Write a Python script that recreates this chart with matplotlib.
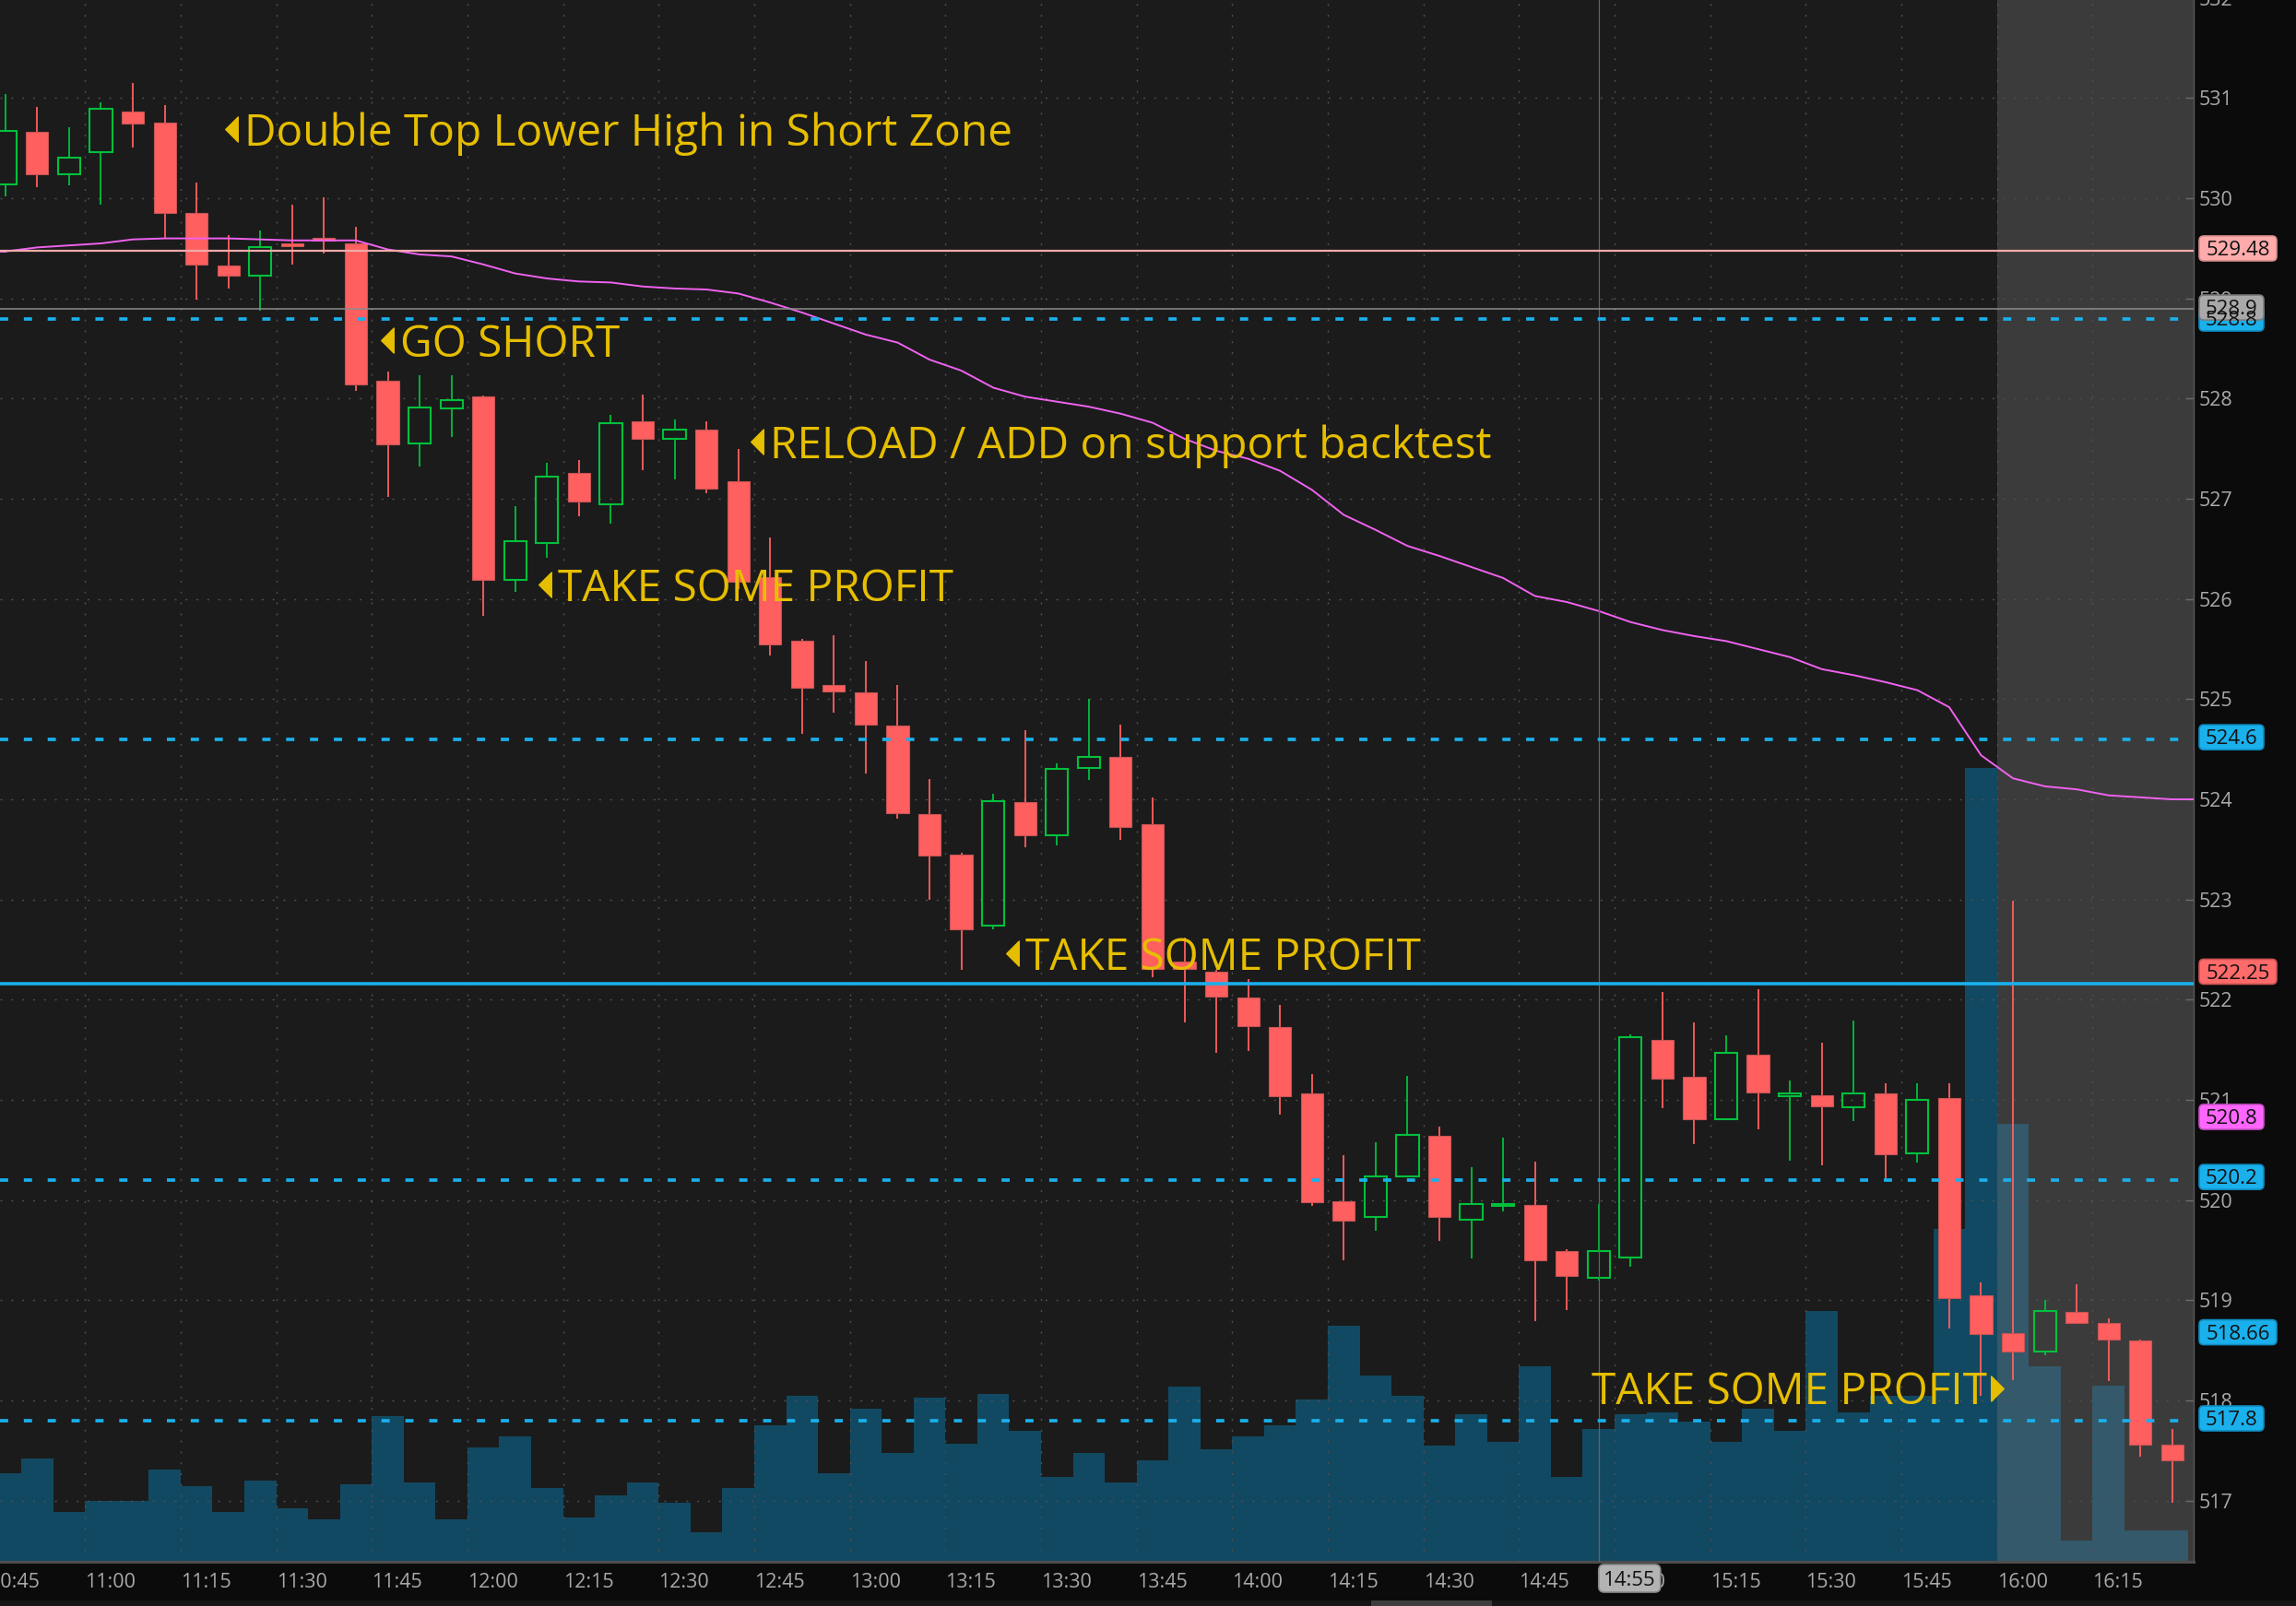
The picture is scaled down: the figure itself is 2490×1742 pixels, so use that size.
import matplotlib
matplotlib.use("Agg")
import matplotlib.pyplot as plt
import matplotlib.transforms as mtransforms
from matplotlib.patches import FancyBboxPatch, Rectangle
from matplotlib.path import Path

plt.rcParams["font.family"] = ["Open Sans", "DejaVu Sans"]

# 5-minute bars from 10:45 to 16:25
opens = [530.14, 530.66, 530.24, 530.46, 530.87, 530.76, 529.85, 529.33, 529.23, 529.55,
         529.61, 529.55, 528.18, 527.55, 527.90, 528.02, 526.19, 526.56, 527.26, 526.95,
         527.77, 527.60, 527.69, 527.18, 526.22, 525.58, 525.14, 525.07, 524.74, 523.85,
         523.45, 522.74, 523.97, 523.64, 524.31, 524.42, 523.75, 522.38, 522.28, 522.02,
         521.73, 521.06, 519.99, 519.83, 520.24, 520.64, 519.80, 519.94, 519.95, 519.49,
         519.22, 519.43, 521.60, 521.23, 520.81, 521.45, 521.04, 521.05, 520.93, 521.06,
         520.47, 521.02, 519.05, 518.67, 518.49, 518.88, 518.77, 518.60, 517.56]
highs = [531.04, 530.91, 530.71, 530.96, 531.15, 530.93, 530.16, 529.63, 529.68, 529.94,
         530.01, 529.72, 528.27, 528.23, 528.23, 528.03, 526.93, 527.36, 527.39, 527.84,
         528.04, 527.79, 527.77, 527.50, 526.61, 525.60, 525.64, 525.38, 525.14, 524.20,
         523.47, 524.06, 524.69, 524.36, 525.00, 524.75, 524.02, 522.62, 522.30, 522.21,
         521.95, 521.26, 520.45, 520.58, 521.24, 520.73, 520.33, 520.62, 520.38, 519.51,
         519.96, 521.65, 522.08, 521.77, 521.64, 522.10, 521.19, 521.57, 521.79, 521.17,
         521.17, 521.17, 519.18, 522.99, 519.00, 519.16, 518.82, 518.61, 517.71]
lows = [530.02, 530.11, 530.13, 529.94, 530.51, 529.60, 528.99, 529.10, 528.88, 529.34,
        529.45, 528.08, 527.02, 527.32, 527.62, 525.83, 526.07, 526.41, 526.83, 526.75,
        527.29, 527.19, 527.06, 526.10, 525.44, 524.65, 524.87, 524.26, 523.81, 523.00,
        522.30, 522.70, 523.52, 523.54, 524.19, 523.60, 522.22, 521.77, 521.47, 521.49,
        520.85, 519.94, 519.40, 519.69, 520.23, 519.59, 519.42, 519.89, 518.79, 518.90,
        519.20, 519.33, 520.92, 520.56, 520.80, 520.71, 520.39, 520.35, 520.79, 520.19,
        520.37, 518.72, 518.05, 518.20, 518.45, 518.77, 518.19, 517.44, 516.98]
closes = [530.67, 530.24, 530.41, 530.89, 530.75, 529.85, 529.34, 529.23, 529.51, 529.52,
          529.58, 528.14, 527.54, 527.91, 527.99, 526.19, 526.58, 527.22, 526.97, 527.76,
          527.60, 527.69, 527.10, 526.17, 525.55, 525.11, 525.08, 524.75, 523.86, 523.44,
          522.70, 523.98, 523.64, 524.30, 524.42, 523.72, 522.31, 522.31, 522.03, 521.74,
          521.04, 519.98, 519.79, 520.24, 520.65, 519.83, 519.96, 519.96, 519.40, 519.24,
          519.49, 521.63, 521.21, 520.81, 521.47, 521.07, 521.06, 520.94, 521.06, 520.46,
          521.00, 519.02, 518.66, 518.49, 518.89, 518.77, 518.61, 517.56, 517.40]
# volume in thousands of shares
volumes = [96, 112, 54, 66, 66, 100, 82, 54, 88, 58, 46, 84, 158, 86, 46, 124, 136, 80,
           48, 72, 86, 64, 32, 80, 148, 180, 96, 166, 118, 178, 128, 182, 142, 92, 118,
           86, 110, 190, 122, 136, 148, 176, 256, 202, 180, 126, 160, 130, 212, 92, 144,
           160, 162, 152, 130, 166, 142, 272, 162, 180, 180, 361, 861, 475, 212, 23, 191,
           34, 34]
vwap = [529.47, 529.51, 529.53, 529.55, 529.59, 529.60, 529.60, 529.60, 529.59, 529.58,
        529.58, 529.58, 529.49, 529.44, 529.42, 529.34, 529.25, 529.20, 529.17, 529.16,
        529.12, 529.10, 529.09, 529.05, 528.96, 528.86, 528.75, 528.64, 528.56, 528.39,
        528.28, 528.11, 528.02, 527.97, 527.92, 527.85, 527.76, 527.60, 527.48, 527.40,
        527.28, 527.09, 526.84, 526.69, 526.53, 526.43, 526.32, 526.21, 526.03, 525.97,
        525.88, 525.77, 525.69, 525.63, 525.58, 525.50, 525.42, 525.30, 525.24, 525.17,
        525.09, 524.92, 524.44, 524.21, 524.13, 524.10, 524.04, 524.02, 524.00]

time_labels = ["10:45", "11:00", "11:15", "11:30", "11:45", "12:00", "12:15", "12:30",
               "12:45", "13:00", "13:15", "13:30", "13:45", "14:00", "14:15", "14:30",
               "14:45", "15:00", "15:15", "15:30", "15:45", "16:00", "16:15"]
time_label_bars = [0, 3, 6, 9, 12, 15, 18, 21, 24, 27, 30, 33, 36, 39, 42, 45, 48, 51,
                   54, 57, 60, 63, 66]
price_ticks = [517, 518, 519, 520, 521, 522, 523, 524, 525, 526, 527, 528, 529, 530, 531]
top_price_label = 532

resistance_pink = 529.48
prev_close = 528.9
dashed_levels = [528.8, 524.6, 520.2, 517.8]
support_solid = 522.16
extended_start = 63   # 16:00 bar
cursor_bar = 50       # 14:55

tags = [
    ("529.48", 529.50, "#ffabab", "#d78c8c"),
    ("528.8", 528.80, "#1ab0ec", "#0f8cc0"),
    ("528.9", 528.91, "#a9a9a9", "#7c7c7c"),
    ("524.6", 524.62, "#1ab0ec", "#0f8cc0"),
    ("522.25", 522.28, "#ff6b6b", "#c95252"),
    ("520.8", 520.83, "#ff66ff", "#c84fc8"),
    ("520.2", 520.23, "#1ab0ec", "#0f8cc0"),
    ("518.66", 518.68, "#1ab0ec", "#0f8cc0"),
    ("517.8", 517.82, "#1ab0ec", "#0f8cc0"),
]

# (text, x in bars, baseline price, arrow side)
notes = [
    ("Double Top Lower High in Short Zone", 7.50, 530.526, "left"),
    ("GO SHORT", 12.38, 528.422, "left"),
    ("RELOAD / ADD on support backtest", 23.98, 527.404, "left"),
    ("TAKE SOME PROFIT", 17.34, 525.981, "left"),
    ("TAKE SOME PROFIT", 32.00, 522.300, "left"),
    ("TAKE SOME PROFIT", 62.20, 517.960, "right"),
]

W, H = 2490, 1742
BG = "#1b1b1b"
RED = "#ff5f5f"
GREEN = "#00c03c"
BLUE = "#1ab0ec"
GOLD = "#e6be00"
AXIS_TXT = "#a9a9a9"

fig = plt.figure(figsize=(W / 100, H / 100), dpi=100, facecolor="#0b0b0b")
rect = [0, 48 / H, 2379 / W, 1694 / H]
vax = fig.add_axes(rect)
ax = fig.add_axes(rect)
ax.patch.set_visible(False)

xlim = (-0.168, 68.67)
ylim = (516.389, 531.980)

# volume pane behind the price pane
vax.set_facecolor(BG)
n = len(closes)
idx = list(range(n))
vax.axvspan(extended_start - 0.5, xlim[1], color="#3b3b3b", lw=0)
vcolors = ["#33596a" if i >= extended_start else "#124962" for i in idx]
vax.bar(idx, volumes, width=1.0, color=vcolors, linewidth=0)
vax.set_xticks([])
vax.set_yticks([])
vax.set_xlim(*xlim)
vax.set_ylim(0, 1694)
for s in vax.spines.values():
    s.set_visible(False)

# grid (ticks first, limits after so they are not widened)
grid_x = [b - 0.5 for b in time_label_bars]
ax.set_xticks(grid_x)
ax.set_yticks(price_ticks)
ax.set_xlim(*xlim)
ax.set_ylim(*ylim)
ax.set_axisbelow(True)
ax.grid(True, color="#505050", linestyle=(0, (1.5, 7)), lw=1.0)
ax.tick_params(axis="x", length=0, labelbottom=False)
ax.yaxis.tick_right()
ax.tick_params(axis="y", direction="in", length=6.5, width=1, color="#6a6a6a",
               labelsize=15.5, labelcolor=AXIS_TXT, pad=3.8)
for s in ("top", "left"):
    ax.spines[s].set_visible(False)
ax.spines["right"].set_color("#5a5a5a")
ax.spines["right"].set_linewidth(1)
ax.spines["bottom"].set_color("#4d4d4d")
ax.spines["bottom"].set_linewidth(2.2)

# candles
bw = 0.70
for i in idx:
    o, h, l, c = opens[i], highs[i], lows[i], closes[i]
    top, bot = max(o, c), min(o, c)
    if c >= o:
        ax.vlines(i, top, h, color=GREEN, lw=1.3, zorder=3)
        ax.vlines(i, l, bot, color=GREEN, lw=1.3, zorder=3)
        ax.add_patch(Rectangle((i - bw / 2, bot), bw, max(top - bot, 0.015),
                               facecolor="none", edgecolor=GREEN, lw=1.5, zorder=3))
    else:
        ax.vlines(i, l, h, color=RED, lw=1.3, zorder=3)
        ax.add_patch(Rectangle((i - bw / 2, bot), bw, max(top - bot, 0.015),
                               facecolor=RED, edgecolor="#c65555", lw=0.8, zorder=3.1))

# vwap-like study line
ax.plot(idx, vwap, color="#f062f0", lw=1.4, zorder=4)
ax.plot([xlim[0], idx[0]], [vwap[0], vwap[0]], color="#f062f0", lw=1.4, zorder=4)
ax.plot([idx[-1], xlim[1]], [vwap[-1], vwap[-1]], color="#f062f0", lw=1.4, zorder=4)

# cursor line
ax.axvline(cursor_bar, color="#626262", lw=0.9, zorder=4)

# levels
ax.axhline(resistance_pink, color="#f4aaaa", lw=1.6, zorder=5)
ax.axhline(prev_close, color="#8c8c8c", lw=1.1, zorder=5)
for lv in dashed_levels:
    ax.axhline(lv, color=BLUE, lw=2.66, linestyle=(0, (2.4, 4.6)), zorder=5)
ax.axhline(support_solid, color=BLUE, lw=2.6, zorder=5)

# annotations
tri_left = Path([(0.5, 1), (-0.5, 0), (0.5, -1), (0.5, 1)],
                [Path.MOVETO, Path.LINETO, Path.LINETO, Path.CLOSEPOLY])
tri_right = Path([(-0.5, 1), (0.5, 0), (-0.5, -1), (-0.5, 1)],
                 [Path.MOVETO, Path.LINETO, Path.LINETO, Path.CLOSEPOLY])
for txt, x, y, side in notes:
    if side == "left":
        ax.text(x, y, txt, color=GOLD, fontsize=34.4, ha="left", va="baseline", zorder=8)
        tr = mtransforms.offset_copy(ax.transData, fig=fig, x=-14, y=18, units="dots")
        ax.plot([x], [y], marker=tri_left, markersize=19.5, color=GOLD, lw=0,
                transform=tr, zorder=8, clip_on=False)
    else:
        ax.text(x, y, txt, color=GOLD, fontsize=34.4, ha="right", va="baseline", zorder=8)
        tr = mtransforms.offset_copy(ax.transData, fig=fig, x=11, y=17, units="dots")
        ax.plot([x], [y], marker=tri_right, markersize=19.5, color=GOLD, lw=0,
                transform=tr, zorder=8, clip_on=False)

# time labels under the chart
xt = mtransforms.blended_transform_factory(ax.transData, ax.transAxes)
for b, lab in zip(time_label_bars, time_labels):
    ax.text(b - 0.5, -28 / 1694, lab, transform=xt, ha="left", va="baseline",
            fontsize=15.5, color=AXIS_TXT, clip_on=False)

# overlay in pixel units for the price tags and cursor box
ov = fig.add_axes([0, 0, 1, 1])
ov.set_xlim(0, W)
ov.set_ylim(H, 0)
ov.axis("off")


def y_px(p):
    return H - ax.transData.transform((0, p))[1]


def x_px(b):
    return ax.transData.transform((b, 0))[0]


# the 532 label sits mostly above the chart and is cut by the top edge
ov.text(2385, y_px(top_price_label) + 7.8, str(top_price_label), ha="left",
        va="baseline", fontsize=15.5, color=AXIS_TXT)

for txt, p, face, edge in tags:
    yc = y_px(p)
    w = 84 if len(txt) > 5 else 70
    ov.add_patch(FancyBboxPatch((2385, yc - 13.5), w, 27,
                                boxstyle="round,pad=0,rounding_size=5",
                                facecolor=face, edgecolor=edge, lw=1.2))
    ov.text(2385 + w / 2, yc + 7.8, txt, ha="center", va="baseline",
            fontsize=16, color="#111111")

cx = x_px(cursor_bar)
ov.add_patch(FancyBboxPatch((cx, 1697), 67, 30, boxstyle="round,pad=0,rounding_size=6",
                            facecolor="#b3b3b3", edgecolor="#8a8a8a", lw=1.2))
ov.text(cx + 33.5, 1720, "14:55", ha="center", va="baseline", fontsize=16, color="#111111")

# scrollbar strip at the very bottom
ov.add_patch(Rectangle((0, 1736), W, 6, facecolor="#151515", lw=0))
ov.add_patch(Rectangle((1487, 1736), 131, 6, facecolor="#3d3d3d", lw=0))

fig.savefig("out.png", dpi=100, facecolor=fig.get_facecolor())
